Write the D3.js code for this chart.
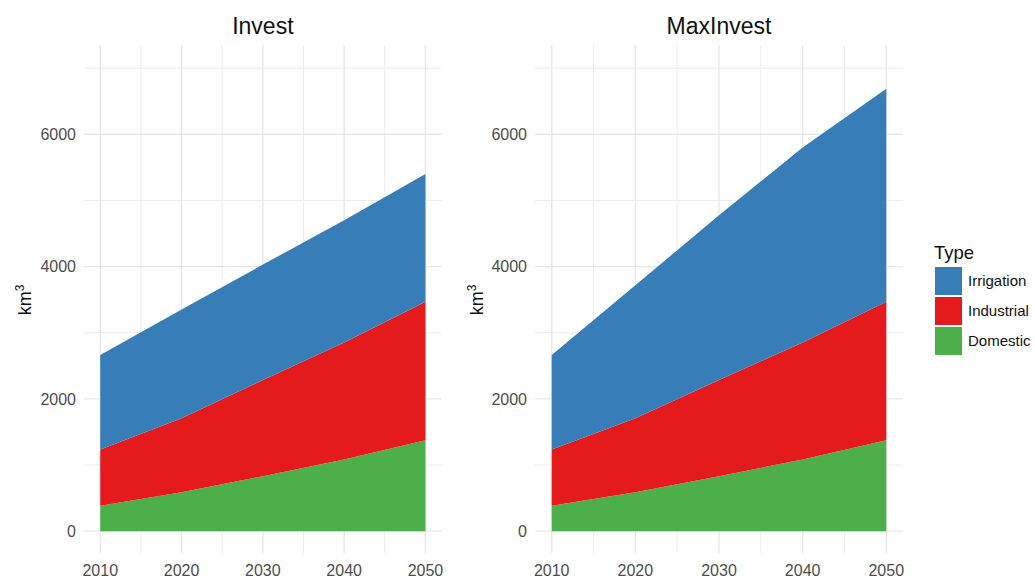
<!DOCTYPE html>
<html>
<head>
<meta charset="utf-8">
<script src="https://cdn.jsdelivr.net/npm/d3@7"></script>
<style>
  html, body { margin: 0; padding: 0; background: #fff; }
  text { font-family: "Liberation Sans", Arial, sans-serif; }
</style>
</head>
<body>
<svg id="chart" width="1035" height="578"></svg>
<script>
const years = [2010, 2020, 2030, 2040, 2050];
const scenarios = ["Invest", "MaxInvest"];
const types = ["Irrigation", "Industrial", "Domestic"];
const typeColors = ["#377EB8", "#E41A1C", "#4DAF4A"];
// Values in km3
const domestic = [385, 590, 832, 1083, 1375];
const industrial = [849, 1118, 1453, 1770, 2092];
const irrigationInvest = [1429, 1642, 1745, 1847, 1933];
const irrigationMaxInvest = [1429, 2010, 2490, 2947, 3220];
const yTicks = [0, 2000, 4000, 6000];
const yMinor = [1000, 3000, 5000, 7000];
const xTicks = [2010, 2020, 2030, 2040, 2050];
const xMinor = [2015, 2025, 2035, 2045];

const irrigationBy = { Invest: irrigationInvest, MaxInvest: irrigationMaxInvest };

const svg = d3.select("#chart");
const color = d3.scaleOrdinal().domain(types).range(typeColors);

const panels = [
  { name: "Invest", x0: 84, x1: 441.7, labelX: 25 },
  { name: "MaxInvest", x0: 535, x1: 903, labelX: 477 }
];

const y = d3.scaleLinear().domain([-330, 7350]).range([553, 45]);

panels.forEach(p => {
  const x = d3.scaleLinear().domain([2008, 2052]).range([p.x0, p.x1]);
  const g = svg.append("g");

  // grid
  g.selectAll(".ymin").data(yMinor).join("line")
    .attr("x1", p.x0).attr("x2", p.x1)
    .attr("y1", d => y(d)).attr("y2", d => y(d))
    .attr("stroke", "#ececec").attr("stroke-width", 1);
  g.selectAll(".xmin").data(xMinor).join("line")
    .attr("y1", y.range()[0]).attr("y2", y.range()[1])
    .attr("x1", d => x(d)).attr("x2", d => x(d))
    .attr("stroke", "#ececec").attr("stroke-width", 1);
  g.selectAll(".ymaj").data(yTicks).join("line")
    .attr("x1", p.x0).attr("x2", p.x1)
    .attr("y1", d => y(d)).attr("y2", d => y(d))
    .attr("stroke", "#e8e8e8").attr("stroke-width", 1.4);
  g.selectAll(".xmaj").data(xTicks).join("line")
    .attr("y1", y.range()[0]).attr("y2", y.range()[1])
    .attr("x1", d => x(d)).attr("x2", d => x(d))
    .attr("stroke", "#e8e8e8").attr("stroke-width", 1.4);

  // data
  const irr = irrigationBy[p.name];
  const rows = years.map((yr, i) => ({
    year: yr, Domestic: domestic[i], Industrial: industrial[i], Irrigation: irr[i]
  }));
  const stack = d3.stack().keys(["Domestic", "Industrial", "Irrigation"]);
  const series = stack(rows);
  const area = d3.area()
    .x(d => x(d.data.year))
    .y0(d => y(d[0]))
    .y1(d => y(d[1]));
  g.selectAll(".area").data(series).join("path")
    .attr("d", area)
    .attr("fill", d => color(d.key));

  // axes labels
  g.selectAll(".ytl").data(yTicks).join("text")
    .attr("x", p.x0 - 8).attr("y", d => y(d))
    .attr("dy", "0.36em").attr("text-anchor", "end")
    .attr("font-size", 16).attr("fill", "#4d4d4d")
    .text(d => d);
  g.selectAll(".xtl").data(xTicks).join("text")
    .attr("x", d => x(d)).attr("y", 576)
    .attr("text-anchor", "middle")
    .attr("font-size", 16).attr("fill", "#4d4d4d")
    .text(d => d);

  // title
  g.append("text")
    .attr("x", (p.x0 + p.x1) / 2).attr("y", 34)
    .attr("text-anchor", "middle").attr("font-size", 23).attr("fill", "#111")
    .text(p.name);

  // y label
  const yl = g.append("text")
    .attr("transform", `translate(${p.labelX + 6},300) rotate(-90)`)
    .attr("text-anchor", "middle").attr("font-size", 18).attr("fill", "#111");
  yl.append("tspan").text("km");
  yl.append("tspan").attr("dy", "-0.55em").attr("font-size", 12).text("3");
});

// legend
const lg = svg.append("g");
lg.append("text").attr("x", 934).attr("y", 259)
  .attr("font-size", 18.5).attr("fill", "#111").text("Type");
types.forEach((t, i) => {
  const top = 267 + i * 30;
  lg.append("rect").attr("x", 935).attr("y", top)
    .attr("width", 27).attr("height", 28).attr("fill", color(t));
  lg.append("text").attr("x", 968).attr("y", top + 14)
    .attr("dy", "0.36em").attr("font-size", 15).attr("fill", "#111").text(t);
});
</script>
</body>
</html>
